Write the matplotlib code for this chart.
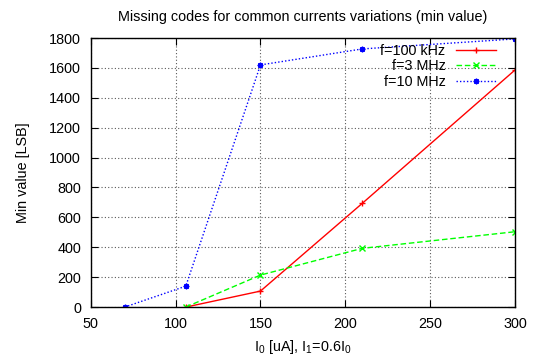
import matplotlib
matplotlib.use("Agg")
import matplotlib.pyplot as plt

plt.rcParams['font.family'] = ['Liberation Sans', 'DejaVu Sans']
plt.rcParams['mathtext.fontset'] = 'custom'
plt.rcParams['mathtext.rm'] = 'Liberation Sans'
plt.rcParams['mathtext.it'] = 'Liberation Sans'

x_blue = [70, 106, 150, 210, 300]
y_blue = [0, 140, 1620, 1727, 1794]
x_red = [106, 150, 210, 300]
y_red = [0, 107, 694, 1586]
x_green = [106, 150, 210, 300]
y_green = [0, 214, 393, 504]

xticks = [50, 100, 150, 200, 250, 300]
yticks = [0, 200, 400, 600, 800, 1000, 1200, 1400, 1600, 1800]

FS = 10.4

fig = plt.figure(figsize=(5.34, 3.6), dpi=100)
ax = fig.add_axes([0.170, 0.147, 0.7944, 0.7474])

ax.plot(x_red, y_red, color='#ff0000', linestyle='-', linewidth=1.0,
        marker='+', markersize=5, markeredgewidth=1.0, label='f=100 kHz')
ax.plot(x_green, y_green, color='#00ff00', linestyle=(0, (4, 2)), linewidth=1.0,
        marker='x', markersize=4, markeredgewidth=1.0, label='f=3 MHz')
ax.plot(x_blue, y_blue, color='#0000ff', linestyle=(0, (1, 1.5)), linewidth=1.0,
        marker=(8, 2, 0), markersize=4, markeredgewidth=1.0, label='f=10 MHz')

ax.set_xlim(50, 300)
ax.set_ylim(0, 1800)
ax.set_xticks(xticks)
ax.set_yticks(yticks)
ax.tick_params(direction='in', length=5, width=0.8, top=True, right=True,
               labelsize=FS, pad=7)
ax.grid(True, color='0.35', linestyle=(0, (1, 2)), linewidth=0.8)
for s in ax.spines.values():
    s.set_linewidth(1.0)

ax.set_title('Missing codes for common currents variations (min value)', fontsize=FS, pad=12)
ax.set_xlabel(r'I$_0$ [uA], I$_1$=0.6I$_0$', fontsize=FS, labelpad=5)
ax.set_ylabel('Min value [LSB]', fontsize=FS, labelpad=14)

ax.legend(loc='upper right', bbox_to_anchor=(0.969, 1.0), frameon=False,
          markerfirst=False, fontsize=FS,
          handlelength=2.8, labelspacing=0.1, borderaxespad=0.2, borderpad=0.2,
          handletextpad=0.7)

fig.savefig('out.png', dpi=100)
